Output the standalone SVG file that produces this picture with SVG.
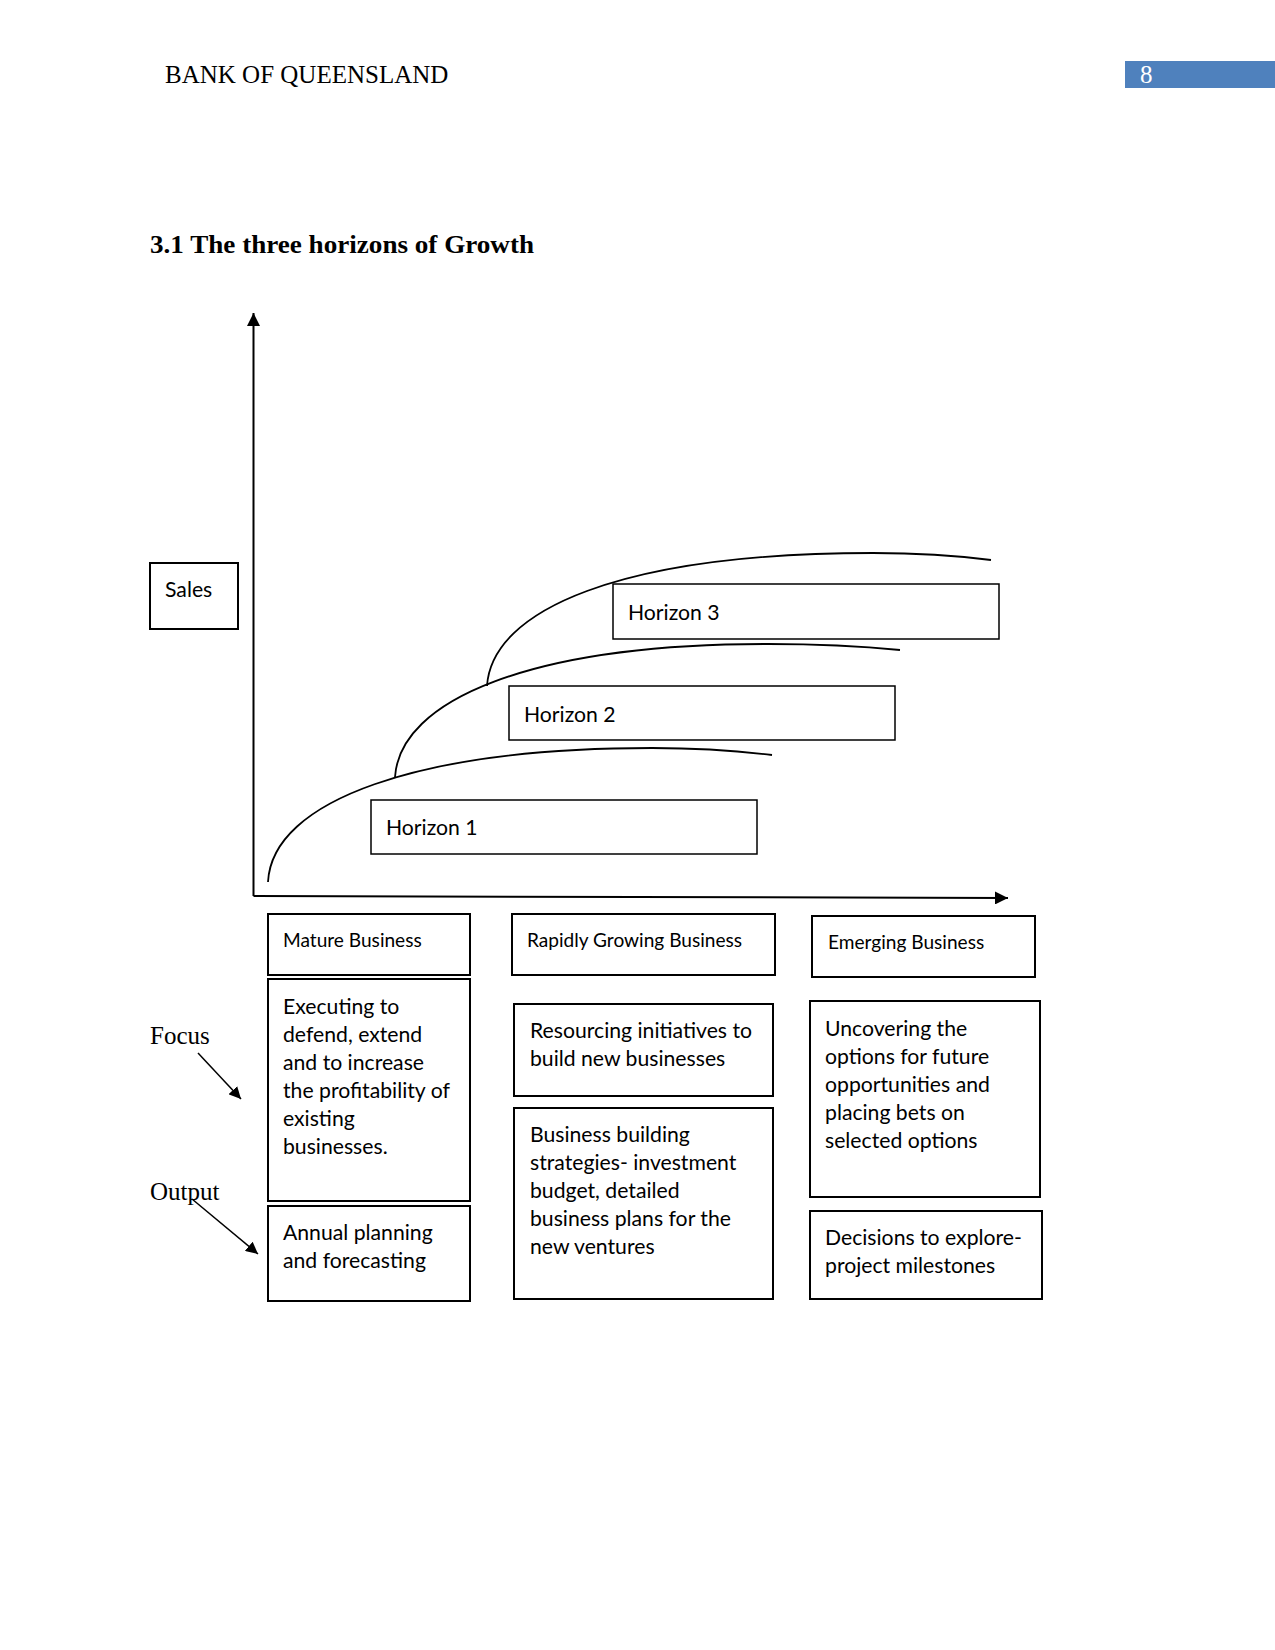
<svg xmlns="http://www.w3.org/2000/svg" width="1275" height="1650" viewBox="0 0 1275 1650">
<defs>
<marker id="ah" viewBox="0 0 12 12" refX="12" refY="6" markerWidth="12" markerHeight="12" markerUnits="userSpaceOnUse" orient="auto">
<path d="M0,0 L12,6 L0,12 Z" fill="#000"/>
</marker>
<marker id="ahs" viewBox="0 0 12 12" refX="12" refY="6" markerWidth="13" markerHeight="13" markerUnits="userSpaceOnUse" orient="auto">
<path d="M0,0 L12,6 L0,12 Z" fill="#000"/>
</marker>
</defs>
<style>
.serif{font-family:"Liberation Serif","Times New Roman",serif;font-size:25px;fill:#000}
.t{font-family:Lato,"Open Sans",sans-serif;font-size:21.2px;fill:#000}
.th{font-family:Lato,"Open Sans",sans-serif;font-size:19.1px;fill:#000}
.box{fill:#fff;stroke:#000;stroke-width:2}
.hbox{fill:#fff;stroke:#000;stroke-width:1.5}
.curve{fill:none;stroke:#000;stroke-width:1.8}
.ax{fill:none;stroke:#000;stroke-width:2}
</style>
<rect width="1275" height="1650" fill="#fff"/>
<g id="header">
<text class="serif" x="165" y="83">BANK OF QUEENSLAND</text>
<rect x="1125" y="61" width="150" height="27" fill="#4F81BD"/>
<text class="serif" x="1140" y="83" style="fill:#fff">8</text>
</g>
<text class="serif" x="150" y="253" style="font-weight:bold;font-size:26px" textLength="384" lengthAdjust="spacingAndGlyphs">3.1 The three horizons of Growth</text>

<g id="connectors">
<line class="ax" x1="253.5" y1="896" x2="253.5" y2="313" marker-end="url(#ahs)"/>
<line class="ax" x1="253.5" y1="896" x2="1008" y2="898" marker-end="url(#ahs)"/>
<path class="curve" d="M268,882 C272,800 420,748 652,748 C700,748 740,751 772,755"/>
<path class="curve" d="M395,777 C400,700 530,644 768,644 C820,644 860,646 900,650"/>
<path class="curve" d="M487,686 C492,610 620,553 873,553 C920,553 960,556 991,560"/>
<line stroke="#000" stroke-width="1.5" x1="198" y1="1053" x2="241" y2="1099" marker-end="url(#ah)"/>
<line stroke="#000" stroke-width="1.5" x1="192" y1="1199" x2="258" y2="1254" marker-end="url(#ah)"/>
</g>

<g id="sales"><rect class="box" x="150" y="563" width="88" height="66"/><text class="t" x="165" y="597">Sales</text></g>
<g id="h3"><rect class="hbox" x="613" y="584" width="386" height="55"/><text class="t" x="628" y="620">Horizon 3</text></g>
<g id="h2"><rect class="hbox" x="509" y="686" width="386" height="54"/><text class="t" x="524" y="722">Horizon 2</text></g>
<g id="h1"><rect class="hbox" x="371" y="800" width="386" height="54"/><text class="t" x="386" y="835">Horizon 1</text></g>

<g id="focus-label"><text class="serif" x="150" y="1044">Focus</text></g>
<g id="output-label"><text class="serif" x="150" y="1200">Output</text></g>

<g id="mature"><rect class="box" x="268" y="914" width="202" height="61"/><text class="th" x="283" y="947">Mature Business</text></g>
<g id="rapid"><rect class="box" x="512" y="914" width="263" height="61"/><text class="th" x="527" y="947">Rapidly Growing Business</text></g>
<g id="emerging"><rect class="box" x="812" y="916" width="223" height="61"/><text class="th" x="828" y="949">Emerging Business</text></g>

<g id="executing"><rect class="box" x="268" y="979" width="202" height="222"/>
<text class="t" x="283" y="1014">Executing to</text>
<text class="t" x="283" y="1042">defend, extend</text>
<text class="t" x="283" y="1070">and to increase</text>
<text class="t" x="283" y="1098">the profitability of</text>
<text class="t" x="283" y="1126">existing</text>
<text class="t" x="283" y="1154">businesses.</text>
</g>
<g id="annual"><rect class="box" x="268" y="1206" width="202" height="95"/>
<text class="t" x="283" y="1240">Annual planning</text>
<text class="t" x="283" y="1268">and forecasting</text>
</g>
<g id="resourcing"><rect class="box" x="514" y="1004" width="259" height="92"/>
<text class="t" x="530" y="1038">Resourcing initiatives to</text>
<text class="t" x="530" y="1066">build new businesses</text>
</g>
<g id="building"><rect class="box" x="514" y="1108" width="259" height="191"/>
<text class="t" x="530" y="1142">Business building</text>
<text class="t" x="530" y="1170">strategies- investment</text>
<text class="t" x="530" y="1198">budget, detailed</text>
<text class="t" x="530" y="1226">business plans for the</text>
<text class="t" x="530" y="1254">new ventures</text>
</g>
<g id="uncovering"><rect class="box" x="810" y="1001" width="230" height="196"/>
<text class="t" x="825" y="1036">Uncovering the</text>
<text class="t" x="825" y="1064">options for future</text>
<text class="t" x="825" y="1092">opportunities and</text>
<text class="t" x="825" y="1120">placing bets on</text>
<text class="t" x="825" y="1148">selected options</text>
</g>
<g id="decisions"><rect class="box" x="810" y="1211" width="232" height="88"/>
<text class="t" x="825" y="1245">Decisions to explore-</text>
<text class="t" x="825" y="1273">project milestones</text>
</g>
</svg>
